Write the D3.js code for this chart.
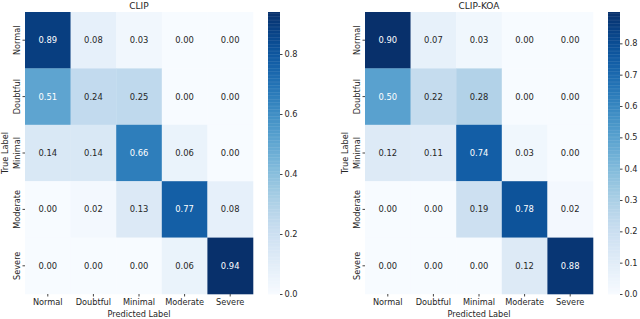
<!DOCTYPE html>
<html>
<head>
<meta charset="utf-8">
<script src="https://cdn.jsdelivr.net/npm/d3@7"></script>
<style>
  body { margin: 0; background: #fff; }
  text { font-family: "DejaVu Sans", sans-serif; }
</style>
</head>
<body>
<div id="chart"></div>
<script>
var labels = ["Normal", "Doubtful", "Minimal", "Moderate", "Severe"];
var clipValues = [
  [0.89, 0.08, 0.03, 0.00, 0.00],
  [0.51, 0.24, 0.25, 0.00, 0.00],
  [0.14, 0.14, 0.66, 0.06, 0.00],
  [0.00, 0.02, 0.13, 0.77, 0.08],
  [0.00, 0.00, 0.00, 0.06, 0.94]
];
var koaValues = [
  [0.90, 0.07, 0.03, 0.00, 0.00],
  [0.50, 0.22, 0.28, 0.00, 0.00],
  [0.12, 0.11, 0.74, 0.03, 0.00],
  [0.00, 0.00, 0.19, 0.78, 0.02],
  [0.00, 0.00, 0.00, 0.12, 0.88]
];
var clipTicks = [0.0, 0.2, 0.4, 0.6, 0.8];
var koaTicks = [0.0, 0.1, 0.2, 0.3, 0.4, 0.5, 0.6, 0.7, 0.8];

var svg = d3.select("#chart").append("svg")
  .attr("width", 640).attr("height", 319);

// relative luminance, same rule seaborn uses to pick annotation colour
function luminance(c) {
  var rgb = d3.rgb(c);
  var f = function(v) { v /= 255; return v <= 0.03928 ? v / 12.92 : Math.pow((v + 0.055) / 1.055, 2.4); };
  return 0.2126 * f(rgb.r) + 0.7152 * f(rgb.g) + 0.0722 * f(rgb.b);
}

var drawHeat = function(left, title, values, ticks) {
  var top = 12, width = 228, height = 282;
  var flat = [];
  values.forEach(function(row, i) {
    row.forEach(function(v, j) { flat.push({ r: i, c: j, v: v }); });
  });
  var vmax = d3.max(flat, function(d) { return d.v; });
  var color = d3.scaleSequential(d3.interpolateBlues).domain([0, vmax]);

  var x = d3.scaleBand().domain(labels).range([0, width]);
  var y = d3.scaleBand().domain(labels).range([0, height]);

  var g = svg.append("g").attr("transform", "translate(" + left + "," + top + ")");

  g.selectAll(".cell").data(flat).enter().append("rect")
    .attr("x", function(d) { return x(labels[d.c]); })
    .attr("y", function(d) { return y(labels[d.r]); })
    .attr("width", x.bandwidth() + 0.3)
    .attr("height", y.bandwidth() + 0.3)
    .style("fill", function(d) { return color(d.v); });

  g.selectAll(".val").data(flat).enter().append("text")
    .attr("x", function(d) { return x(labels[d.c]) + x.bandwidth() / 2; })
    .attr("y", function(d) { return y(labels[d.r]) + y.bandwidth() / 2; })
    .attr("dy", "0.35em")
    .attr("text-anchor", "middle")
    .style("font-size", "8.4px")
    .style("fill", function(d) { return luminance(color(d.v)) > 0.408 ? "#262626" : "#fff"; })
    .text(function(d) { return d.v.toFixed(2); });

  var xAxis = g.append("g").attr("transform", "translate(0," + height + ")")
    .call(d3.axisBottom(x).tickSize(2.5).tickPadding(3));
  xAxis.select(".domain").remove();
  xAxis.selectAll("text").style("font-size", "8.2px").style("fill", "#262626");
  xAxis.selectAll("line").style("stroke", "#444");

  var yAxis = g.append("g").call(d3.axisLeft(y).tickSize(2.5).tickPadding(3));
  yAxis.select(".domain").remove();
  yAxis.selectAll("line").style("stroke", "#444");
  yAxis.selectAll("text").style("font-size", "8.2px").style("fill", "#262626")
    .attr("text-anchor", "middle")
    .attr("transform", "rotate(-90)")
    .attr("x", 0).attr("dy", 0)
    .attr("y", -5.5);

  g.append("text")
    .attr("x", width / 2).attr("y", -3.5)
    .attr("text-anchor", "middle")
    .style("font-size", "9px").style("fill", "#262626")
    .text(title);

  g.append("text")
    .attr("x", width / 2).attr("y", height + 22.5)
    .attr("text-anchor", "middle")
    .style("font-size", "8.2px").style("fill", "#262626")
    .text("Predicted Label");

  g.append("text")
    .attr("transform", "translate(" + (-17) + "," + (height / 2) + ") rotate(-90)")
    .attr("text-anchor", "middle")
    .style("font-size", "8.2px").style("fill", "#262626")
    .text("True Label");

  // colorbar
  var cbX = width + 15, cbW = 12;
  var cy = d3.scaleLinear().domain([0, vmax]).range([height, 0]);
  var steps = d3.range(0, 200);
  g.selectAll(".cb").data(steps).enter().append("rect")
    .attr("x", cbX)
    .attr("y", function(d) { return cy(vmax * (d + 1) / 200); })
    .attr("width", cbW)
    .attr("height", height / 200 + 0.4)
    .style("fill", function(d) { return color(vmax * (d + 0.5) / 200); });

  var cAxis = g.append("g").attr("transform", "translate(" + (cbX + cbW) + ",0)")
    .call(d3.axisRight(cy).tickValues(ticks).tickFormat(d3.format(".1f")).tickSize(2.5).tickPadding(2));
  cAxis.select(".domain").remove();
  cAxis.selectAll("line").style("stroke", "#444");
  cAxis.selectAll("text").style("font-size", "8.2px").style("fill", "#262626");
};

drawHeat(25, "CLIP", clipValues, clipTicks);
drawHeat(365, "CLIP-KOA", koaValues, koaTicks);
</script>
</body>
</html>
